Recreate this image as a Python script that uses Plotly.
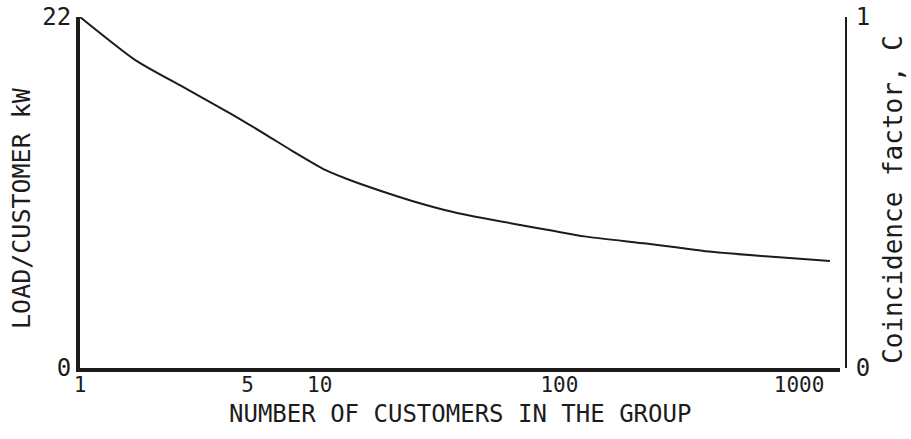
import plotly.graph_objects as go

# Group size (number of customers) and diversified load per customer (kW)
customers = [1, 1.7, 2.7, 4.3, 6.0, 7.7, 10.6, 13, 20.7, 28, 37.8, 69.5, 94, 127, 230, 312, 420, 800, 1345]
load_kw = [22, 19.3, 17.6, 15.9, 14.6, 13.6, 12.4, 11.85, 10.8, 10.2, 9.7, 8.95, 8.6, 8.25, 7.8, 7.55, 7.3, 6.95, 6.7]

x_tick_vals = [1, 5, 10, 100, 1000]
x_tick_text = ["1", "5", "10", "100", "1000"]
left_tick_vals = [0, 22]
right_tick_vals = [0, 1]

FONT = "DejaVu Sans Mono"
INK = "#1c1c1c"

fig = go.Figure()
fig.add_trace(go.Scatter(
    x=customers, y=load_kw, mode="lines",
    line=dict(color=INK, width=2, shape="spline", smoothing=0.6),
    showlegend=False, hoverinfo="skip",
))
# invisible trace so the coincidence-factor axis is drawn
fig.add_trace(go.Scatter(
    x=[1, 1345], y=[0, 1], yaxis="y2", mode="lines",
    line=dict(width=0), opacity=0, showlegend=False, hoverinfo="skip",
))

fig.update_layout(
    width=911, height=439,
    margin=dict(l=80, r=65, t=17, b=71),
    paper_bgcolor="white", plot_bgcolor="white",
    font=dict(family=FONT, color=INK, size=24),
    xaxis=dict(
        type="log", range=[0, 3.17], domain=[0, 0.992], automargin=False,
        showgrid=False, zeroline=False,
        showline=True, linecolor=INK, linewidth=4,
        tickmode="array", tickvals=x_tick_vals, ticktext=x_tick_text,
        ticks="", ticklabelstandoff=-5,
        tickfont=dict(size=21, family=FONT, color=INK),
    ),
    yaxis=dict(
        range=[0, 22], showgrid=False, zeroline=False, automargin=False,
        showline=True, linecolor=INK, linewidth=4,
        tickmode="array", tickvals=left_tick_vals,
        ticks="", tickfont=dict(size=24, family=FONT, color=INK),
    ),
    yaxis2=dict(
        range=[0, 1], overlaying="y", side="right", automargin=False,
        anchor="free", position=1.0,
        showgrid=False, zeroline=False,
        showline=True, linecolor=INK, linewidth=2,
        tickmode="array", tickvals=right_tick_vals,
        ticks="", ticklabelstandoff=4,
        tickfont=dict(size=24, family=FONT, color=INK),
    ),
    annotations=[
        dict(text="NUMBER OF CUSTOMERS IN THE GROUP", xref="paper", yref="paper",
             x=0.496, y=0, yshift=-46, xanchor="center", yanchor="middle",
             showarrow=False, font=dict(size=24, family=FONT, color=INK)),
        dict(text="LOAD/CUSTOMER kW", xref="paper", yref="paper",
             x=0, xshift=-58, y=0.456, xanchor="center", yanchor="middle",
             textangle=-90, showarrow=False,
             font=dict(size=25, family=FONT, color=INK)),
        dict(text="Coincidence factor, C", xref="paper", yref="paper",
             x=1, xshift=47, y=0.479, xanchor="center", yanchor="middle",
             textangle=-90, showarrow=False,
             font=dict(size=26, family=FONT, color=INK)),
    ],
)

fig.write_html("out.html")
